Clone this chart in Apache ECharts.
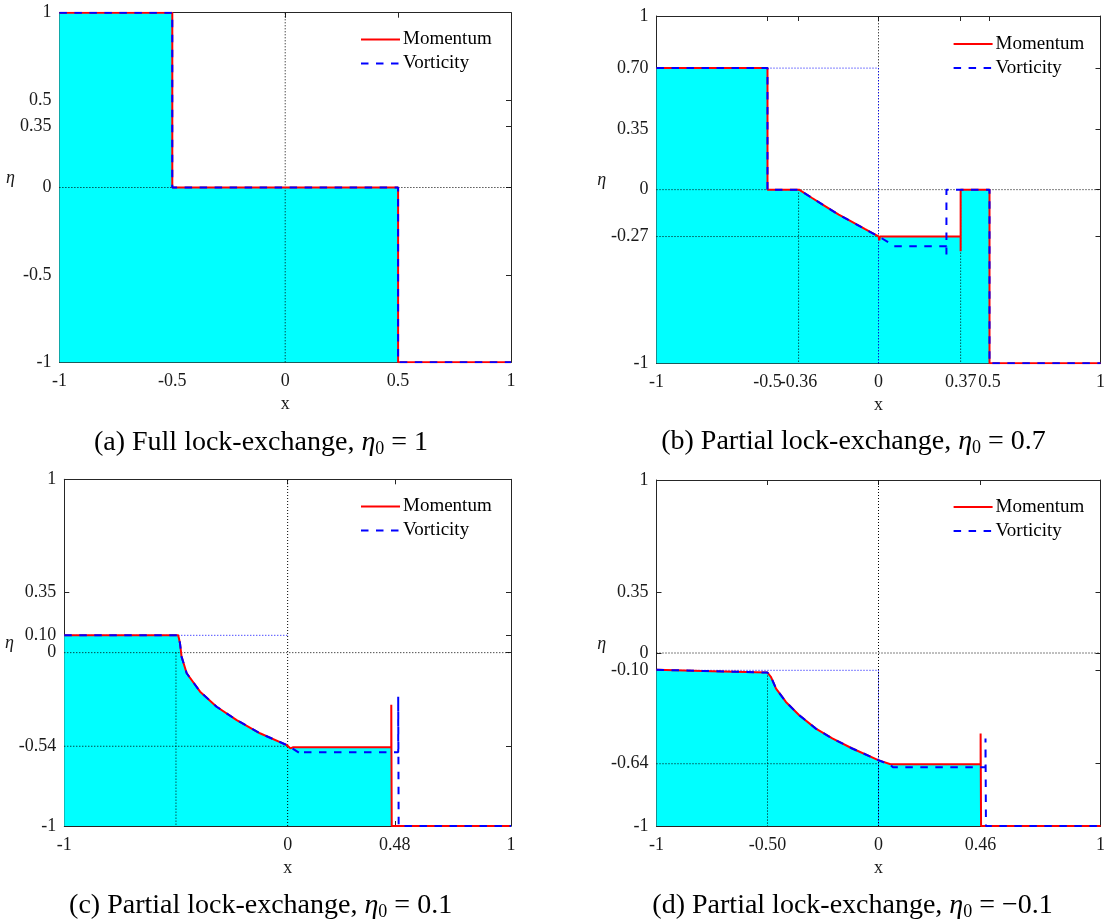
<!DOCTYPE html>
<html>
<head>
<meta charset="utf-8">
<script src="https://cdn.jsdelivr.net/npm/echarts@6/dist/echarts.min.js"></script>
<style>
  html, body { margin: 0; padding: 0; background: #fff; }
  #chart { width: 1108px; height: 922px; }
</style>
</head>
<body>
<div id="chart"></div>
<script>
// (a) full lock-exchange, eta0 = 1
const momentumA = [[-1, 1], [-0.5, 1], [-0.5, 0], [0.5, 0], [0.5, -1], [1, -1]];
const vorticityA = [[-1, 1], [-0.5, 1], [-0.5, 0], [0.5, 0], [0.5, -1], [1, -1]];
const blackDotsA = [[[-1, 0], [1, 0]], [[0, -1], [0, 1]]];
const blueDotsA = [];
const xTicksA = [-1, -0.5, 0, 0.5, 1];
const xLabelsA = ['-1', '-0.5', '0', '0.5', '1'];
const yTicksA = [-1, -0.5, 0, 0.35, 0.5, 1];
const yLabelsA = ['-1', '-0.5', '0', '0.35', '0.5', '1'];

// (b) partial lock-exchange, eta0 = 0.7
const momentumB = [[-1, 0.7], [-0.5, 0.7], [-0.5, 0], [-0.358, 0], [-0.299, -0.048], [-0.239, -0.096],
  [-0.179, -0.144], [-0.119, -0.186], [-0.06, -0.228], [0, -0.269], [0.004, -0.292], [0.006, -0.27],
  [0.37, -0.27], [0.37, -0.355], [0.37, 0], [0.5, 0], [0.5, -1], [1, -1]];
const vorticityB = [[-1, 0.7], [-0.5, 0.7], [-0.5, 0], [-0.358, 0], [-0.299, -0.048], [-0.239, -0.096],
  [-0.179, -0.144], [-0.119, -0.186], [-0.06, -0.228], [0, -0.269], [0.05, -0.307], [0.07, -0.326],
  [0.306, -0.326], [0.306, -0.374], [0.306, 0], [0.5, 0], [0.5, -1], [1, -1]];
const blackDotsB = [[[-1, 0], [1, 0]], [[0, -1], [0, 1]], [[-1, -0.27], [0, -0.27]],
  [[-0.36, 0], [-0.36, -1]], [[0.37, 0], [0.37, -1]]];
const blueDotsB = [[[-1, 0.7], [0, 0.7]], [[0, 0.7], [0, -1]]];
const xTicksB = [-1, -0.5, -0.36, 0, 0.37, 0.5, 1];
const xLabelsB = ['-1', '-0.5', '-0.36', '0', '0.37', '0.5', '1'];
const yTicksB = [-1, -0.27, 0, 0.35, 0.7, 1];
const yLabelsB = ['-1', '-0.27', '0', '0.35', '0.70', '1'];

// (c) partial lock-exchange, eta0 = 0.1
const momentumC = [[-1, 0.1], [-0.49, 0.1], [-0.482, 0.054], [-0.475, -0.023], [-0.452, -0.119],
  [-0.392, -0.225], [-0.318, -0.312], [-0.228, -0.389], [-0.124, -0.465], [-0.004, -0.533],
  [0.002, -0.522], [0.012, -0.552], [0.025, -0.546], [0.464, -0.546], [0.464, -0.3], [0.466, -1], [1, -1]];
const vorticityC = [[-1, 0.1], [-0.49, 0.1], [-0.482, 0.054], [-0.475, -0.023], [-0.452, -0.119],
  [-0.392, -0.225], [-0.318, -0.312], [-0.228, -0.389], [-0.124, -0.465], [-0.004, -0.533],
  [0.033, -0.562], [0.065, -0.59], [0.07, -0.575], [0.495, -0.575], [0.495, -0.254], [0.497, -1], [1, -1]];
const blackDotsC = [[[-1, 0], [1, 0]], [[0, -1], [0, 1]], [[-1, -0.54], [0, -0.54]], [[-0.5, 0], [-0.5, -1]]];
const blueDotsC = [[[-1, 0.1], [0, 0.1]]];
const xTicksC = [-1, 0, 0.48, 1];
const xLabelsC = ['-1', '0', '0.48', '1'];
const yTicksC = [-1, -0.54, 0, 0.1, 0.35, 1];
const yLabelsC = ['-1', '-0.54', '0', '0.10', '0.35', '1'];

// (d) partial lock-exchange, eta0 = -0.1
const momentumD = [[-1, -0.097], [-0.75, -0.105], [-0.5, -0.113], [-0.484, -0.139], [-0.4615, -0.206],
  [-0.417, -0.283], [-0.357, -0.36], [-0.282, -0.437], [-0.208, -0.494], [-0.118, -0.552],
  [-0.001, -0.619], [0.054, -0.643], [0.46, -0.643], [0.46, -0.465], [0.462, -1], [1, -1]];
const vorticityD = [[-1, -0.097], [-0.75, -0.105], [-0.5, -0.113], [-0.484, -0.139], [-0.4615, -0.206],
  [-0.417, -0.283], [-0.357, -0.36], [-0.282, -0.437], [-0.208, -0.494], [-0.118, -0.552],
  [-0.001, -0.619], [0.054, -0.648], [0.065, -0.661], [0.482, -0.661], [0.482, -0.494], [0.484, -1], [1, -1]];
const blackDotsD = [[[-1, 0], [1, 0]], [[0, -1], [0, 1]], [[-1, -0.64], [0, -0.64]], [[-0.5, -0.113], [-0.5, -1]]];
const blueDotsD = [[[-1, -0.1], [0, -0.1]], [[0, -0.1], [0, -1]]];
const xTicksD = [-1, -0.5, 0, 0.46, 1];
const xLabelsD = ['-1', '-0.50', '0', '0.46', '1'];
const yTicksD = [-1, -0.64, -0.1, 0, 0.35, 1];
const yLabelsD = ['-1', '-0.64', '-0.10', '0', '0.35', '1'];

const captions = [
  '(a) Full lock-exchange, {e|η}{s|0} = 1',
  '(b) Partial lock-exchange, {e|η}{s|0} = 0.7',
  '(c) Partial lock-exchange, {e|η}{s|0} = 0.1',
  '(d) Partial lock-exchange, {e|η}{s|0} = −0.1'
];

const FONT = 'Liberation Serif';
const AX = '#262626';

const panels = [
  { mom: momentumA, vor: vorticityA, black: blackDotsA, blue: blueDotsA, xt: xTicksA, xl: xLabelsA, yt: yTicksA, yl: yLabelsA,
    grid: { left: 59.4, top: 12.7, width: 451.6, height: 349.6 }, etaGap: 38, legend: { left: 360, top: 30 }, cap: { x: 261, y: 428 } },
  { mom: momentumB, vor: vorticityB, black: blackDotsB, blue: blueDotsB, xt: xTicksB, xl: xLabelsB, yt: yTicksB, yl: yLabelsB,
    grid: { left: 656.5, top: 16, width: 446.3, height: 347.3 }, etaGap: 44, legend: { left: 952.6, top: 34.5 }, cap: { x: 853.5, y: 427 } },
  { mom: momentumC, vor: vorticityC, black: blackDotsC, blue: blueDotsC, xt: xTicksC, xl: xLabelsC, yt: yTicksC, yl: yLabelsC,
    grid: { left: 64.3, top: 479.3, width: 446.7, height: 346.7 }, etaGap: 44, legend: { left: 360, top: 497 }, cap: { x: 260.6, y: 891 } },
  { mom: momentumD, vor: vorticityD, black: blackDotsD, blue: blueDotsD, xt: xTicksD, xl: xLabelsD, yt: yTicksD, yl: yLabelsD,
    grid: { left: 656.5, top: 480, width: 446.3, height: 346 }, etaGap: 44, legend: { left: 952.6, top: 497.5 }, cap: { x: 852.6, y: 891 } }
];

function labelFor(ticks, labels) {
  return v => {
    const i = ticks.findIndex(t => Math.abs(t - v) < 1e-9);
    return i >= 0 ? labels[i] : '';
  };
}

const axisLine = { show: true, onZero: false, lineStyle: { color: AX, width: 1 } };
const tickStyle = { color: AX, width: 1 };
const labelFont = { fontFamily: FONT, fontSize: 18, color: '#1a1a1a' };

const grid = [], xAxis = [], yAxis = [], series = [], legend = [], title = [];

panels.forEach((p, i) => {
  grid.push(p.grid);
  xAxis.push({
    gridIndex: i, type: 'value', min: -1, max: 1, position: 'bottom',
    axisLine, splitLine: { show: false },
    axisTick: { show: true, inside: true, length: 5, customValues: p.xt, lineStyle: tickStyle },
    axisLabel: { show: true, customValues: p.xt, formatter: labelFor(p.xt, p.xl), margin: 10, ...labelFont },
    name: 'x', nameLocation: 'middle', nameGap: 33,
    nameTextStyle: { fontFamily: FONT, fontSize: 18, color: '#1a1a1a' }
  });
  xAxis.push({
    gridIndex: i, type: 'value', min: -1, max: 1, position: 'top',
    axisLine, splitLine: { show: false }, axisLabel: { show: false },
    axisTick: { show: true, inside: true, length: 5, customValues: p.xt, lineStyle: tickStyle }
  });
  yAxis.push({
    gridIndex: i, type: 'value', min: -1, max: 1, position: 'left',
    axisLine, splitLine: { show: false },
    axisTick: { show: true, inside: true, length: 5, customValues: p.yt, lineStyle: tickStyle },
    axisLabel: { show: true, customValues: p.yt, formatter: labelFor(p.yt, p.yl), margin: 8, ...labelFont },
    name: 'η', nameLocation: 'middle', nameRotate: 0, nameGap: p.etaGap,
    nameTextStyle: { fontFamily: FONT, fontSize: 18, fontStyle: 'italic', color: '#1a1a1a', verticalAlign: 'bottom' }
  });
  yAxis.push({
    gridIndex: i, type: 'value', min: -1, max: 1, position: 'right',
    axisLine, splitLine: { show: false }, axisLabel: { show: false },
    axisTick: { show: true, inside: true, length: 5, customValues: p.yt, lineStyle: tickStyle }
  });

  const ax = { xAxisIndex: 2 * i, yAxisIndex: 2 * i };
  // cyan fill under the momentum profile
  series.push({
    type: 'line', ...ax, data: p.mom, symbol: 'none', silent: true, z: 1,
    lineStyle: { opacity: 0 }, areaStyle: { color: '#00ffff', opacity: 1, origin: 'start' }
  });
  p.black.forEach(seg => series.push({
    type: 'line', ...ax, data: seg, symbol: 'none', silent: true, z: 2,
    lineStyle: { color: '#000', width: 1, type: [1, 2] }
  }));
  p.blue.forEach(seg => series.push({
    type: 'line', ...ax, data: seg, symbol: 'none', silent: true, z: 2,
    lineStyle: { color: '#0000ff', width: 1, type: [1, 2] }
  }));
  series.push({
    name: 'Momentum', type: 'line', ...ax, data: p.mom, symbol: 'none', z: 3,
    itemStyle: { color: '#ff0000' }, lineStyle: { color: '#ff0000', width: 2 }
  });
  series.push({
    name: 'Vorticity', type: 'line', ...ax, data: p.vor, symbol: 'none', z: 4,
    itemStyle: { color: '#0000ff' }, lineStyle: { color: '#0000ff', width: 2, type: [7.5, 7.5] }
  });

  legend.push({
    data: ['Momentum', 'Vorticity'], orient: 'vertical', left: p.legend.left, top: p.legend.top,
    padding: 0, itemWidth: 39, itemHeight: 14, itemGap: 5, selectedMode: false,
    itemStyle: { opacity: 0 },
    textStyle: { fontFamily: FONT, fontSize: 19, color: '#000', padding: [0, 0, 0, -2] }
  });

  title.push({
    text: captions[i], left: p.cap.x, top: p.cap.y, textAlign: 'center', padding: 0,
    textStyle: {
      fontFamily: FONT, fontSize: 28, fontWeight: 'normal', color: '#000', lineHeight: 30,
      rich: {
        e: { fontFamily: FONT, fontSize: 28, fontStyle: 'italic', color: '#000', lineHeight: 30 },
        s: { fontFamily: FONT, fontSize: 18, color: '#000', lineHeight: 12, verticalAlign: 'bottom' }
      }
    }
  });
});

const chart = echarts.init(document.getElementById('chart'), null, { renderer: 'canvas' });
chart.setOption({
  backgroundColor: '#fff',
  animation: false,
  title, legend, grid, xAxis, yAxis, series
});
</script>
</body>
</html>
